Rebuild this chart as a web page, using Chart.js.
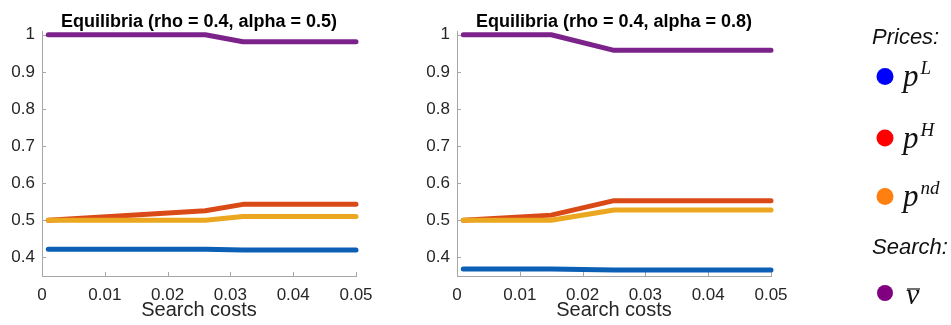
<!DOCTYPE html>
<html>
<head>
<meta charset="utf-8">
<script src="https://cdn.jsdelivr.net/npm/chart.js@4"></script>
<style>
  html, body { margin: 0; padding: 0; background: #fff; }
  #wrap { position: relative; width: 951px; height: 325px; overflow: hidden; }
  canvas { position: absolute; top: 0; }
  #legend { position: absolute; left: 0; top: 0; }
</style>
</head>
<body>
<div id="wrap">
  <canvas id="chart1" width="400" height="325" style="left:0px"></canvas>
  <canvas id="chart2" width="400" height="325" style="left:415px"></canvas>
  <svg id="legend" width="951" height="325">
    <text x="872" y="44" font-family="Liberation Sans, Arial, sans-serif" font-style="italic" font-size="22" fill="#111">Prices:</text>
    <circle cx="885" cy="76.5" r="8.5" fill="#0000ff"/>
    <text x="903" y="86" font-family="Liberation Serif, Times New Roman, serif" font-style="italic" font-size="31" fill="#111">p<tspan dx="2" dy="-12" font-size="19">L</tspan></text>
    <circle cx="885" cy="138" r="8.5" fill="#ff0000"/>
    <text x="903" y="147.5" font-family="Liberation Serif, Times New Roman, serif" font-style="italic" font-size="31" fill="#111">p<tspan dx="2" dy="-12" font-size="19">H</tspan></text>
    <circle cx="885" cy="196.5" r="8.5" fill="#ff8011"/>
    <text x="903" y="206" font-family="Liberation Serif, Times New Roman, serif" font-style="italic" font-size="31" fill="#111">p<tspan dx="2" dy="-12" font-size="19">nd</tspan></text>
    <text x="872" y="254" font-family="Liberation Sans, Arial, sans-serif" font-style="italic" font-size="22" fill="#111">Search:</text>
    <circle cx="885" cy="293" r="8" fill="#800080"/>
    <text x="906" y="304" font-family="Liberation Serif, Times New Roman, serif" font-style="italic" font-size="30" fill="#111">v</text>
    <line x1="907" y1="289" x2="920" y2="289" stroke="#111" stroke-width="1.2"/>
  </svg>
</div>
<script>
// search costs on the x axis (left panel: alpha = 0.5, right panel: alpha = 0.8)
const costs1 = [0.001, 0.026, 0.032, 0.05];
const costs2 = [0.001, 0.015, 0.025, 0.05];

// left panel (rho = 0.4, alpha = 0.5)
const pL1   = [0.422, 0.422, 0.420, 0.420];
const pH1   = [0.500, 0.526, 0.543, 0.543];
const pND1  = [0.500, 0.500, 0.510, 0.510];
const vbar1 = [1.000, 1.000, 0.981, 0.981];

// right panel (rho = 0.4, alpha = 0.8)
const pL2   = [0.369, 0.369, 0.366, 0.366];
const pH2   = [0.500, 0.514, 0.553, 0.553];
const pND2  = [0.500, 0.500, 0.528, 0.528];
const vbar2 = [1.000, 1.000, 0.958, 0.958];

const xTicks = [0, 0.01, 0.02, 0.03, 0.04, 0.05];
const yTicks = [0.4, 0.5, 0.6, 0.7, 0.8, 0.9, 1];

const titles = ['Equilibria (rho = 0.4, alpha = 0.5)', 'Equilibria (rho = 0.4, alpha = 0.8)'];

const AXIS_COLOR = '#a6a6a6';
const TEXT_COLOR = '#262626';
const FONT = 'Liberation Sans, Arial, Helvetica, sans-serif';

const colors = {
    pL: '#0b5fb4',
    pH: '#d94a17',
    pND: '#eba71f',
    vbar: '#7b238a',
};

const toPoints = (xs, ys) => xs.map((x, i) => ({ x: x, y: ys[i] }));

const makeLine = (xs, ys, color, order) => ({
    data: toPoints(xs, ys),
    borderColor: color,
    backgroundColor: color,
    borderWidth: 5,
    borderCapStyle: 'round',
    borderJoinStyle: 'round',
    pointRadius: 0,
    tension: 0,
    clip: 8,
    order: order,
});

// MATLAB style tick marks pointing into the plot
const innerTicks = {
    id: 'innerTicks',
    beforeDatasetsDraw(chart) {
        const { ctx, chartArea, scales } = chart;
        ctx.save();
        ctx.strokeStyle = AXIS_COLOR;
        ctx.lineWidth = 1;
        ctx.beginPath();
        scales.x.ticks.forEach(t => {
            const px = Math.round(scales.x.getPixelForValue(t.value)) + 0.5;
            ctx.moveTo(px, chartArea.bottom);
            ctx.lineTo(px, chartArea.bottom - 4);
        });
        scales.y.ticks.forEach(t => {
            const py = Math.round(scales.y.getPixelForValue(t.value)) + 0.5;
            ctx.moveTo(chartArea.left, py);
            ctx.lineTo(chartArea.left + 4, py);
        });
        ctx.stroke();
        ctx.restore();
    },
};

const makeChart = (id, title, xs, pL, pH, pND, vbar) => {
    const config = {
        type: 'line',
        data: {
            datasets: [
                makeLine(xs, vbar, colors.vbar, 1),
                makeLine(xs, pND, colors.pND, 2),
                makeLine(xs, pH, colors.pH, 3),
                makeLine(xs, pL, colors.pL, 4),
            ],
        },
        options: {
            responsive: false,
            animation: false,
            layout: { padding: { left: 0, right: 44, top: 0, bottom: 0 } },
            plugins: {
                legend: { display: false },
                tooltip: { enabled: false },
                title: {
                    display: true,
                    text: title,
                    fullSize: false,
                    color: '#000',
                    font: { family: FONT, size: 18, weight: 'bold', lineHeight: 1 },
                    padding: { top: 13, bottom: 0 },
                },
            },
            scales: {
                x: {
                    type: 'linear',
                    min: 0,
                    max: 0.05,
                    afterBuildTicks: scale => { scale.ticks = xTicks.map(v => ({ value: v })); },
                    afterFit: scale => { scale.height = 49; },
                    grid: { display: false, drawTicks: false },
                    border: { display: true, color: AXIS_COLOR, width: 1 },
                    ticks: {
                        color: TEXT_COLOR,
                        font: { family: FONT, size: 17 },
                        padding: 9,
                        maxRotation: 0,
                        callback: v => String(v),
                    },
                    title: {
                        display: true,
                        text: 'Search costs',
                        color: TEXT_COLOR,
                        font: { family: FONT, size: 20, lineHeight: 1.2 },
                        padding: { top: 0, bottom: 3 },
                    },
                },
                y: {
                    type: 'linear',
                    min: 0.35,
                    max: 1.01,
                    afterBuildTicks: scale => { scale.ticks = yTicks.map(v => ({ value: v })); },
                    afterFit: scale => { scale.width = 42; },
                    grid: { display: false, drawTicks: false },
                    border: { display: true, color: AXIS_COLOR, width: 1 },
                    ticks: {
                        color: TEXT_COLOR,
                        font: { family: FONT, size: 17 },
                        padding: 7,
                        callback: v => String(v),
                    },
                },
            },
        },
        plugins: [innerTicks],
    };
    return new Chart(document.getElementById(id), config);
};

makeChart('chart1', titles[0], costs1, pL1, pH1, pND1, vbar1);
makeChart('chart2', titles[1], costs2, pL2, pH2, pND2, vbar2);
</script>
</body>
</html>
